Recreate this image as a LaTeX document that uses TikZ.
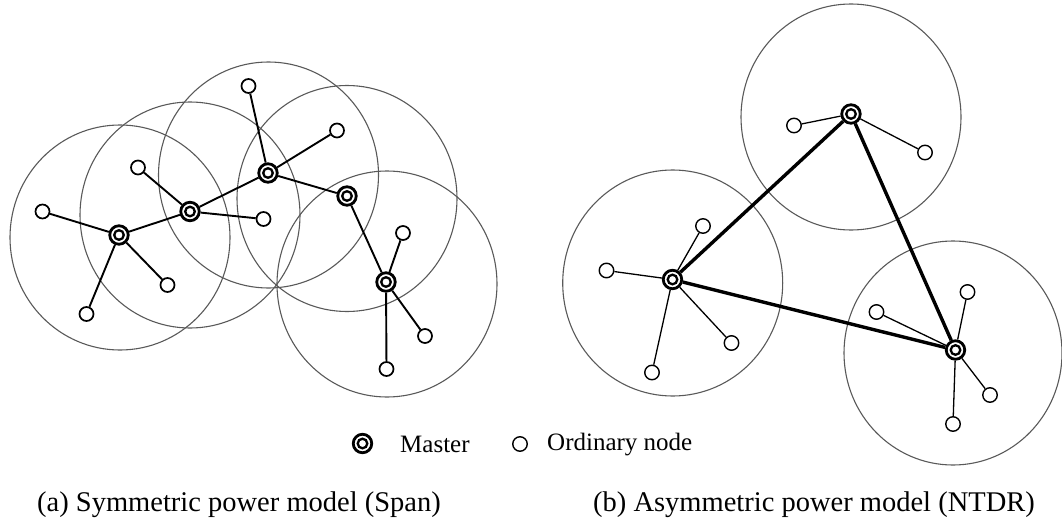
\documentclass[tikz,border=0pt]{standalone}
\usepackage{fontspec}
\setmainfont{Liberation Serif}
\begin{document}
\begin{tikzpicture}[x=1pt,y=-1pt,
  rangec/.style={draw=black!65, line width=1.1pt},
  master/.style={circle, draw, fill=white, line width=2.8pt, minimum size=18.5pt, inner sep=0pt,
    path picture={\draw[line width=2.3pt] (path picture bounding box.center) circle (4.8pt);}},
  ordnode/.style={circle, draw, fill=white, line width=1.7pt, minimum size=14pt, inner sep=0pt},
  ordthin/.style={circle, draw, fill=white, line width=1.4pt, minimum size=14.5pt, inner sep=0pt},
  linkA/.style={line width=1.9pt},
  linkB/.style={line width=1.3pt},
  trunk/.style={line width=3.4pt},
  lbl/.style={font=\fontsize{25}{29}\selectfont, inner sep=0pt},
  captext/.style={font=\fontsize{28.5}{33}\selectfont, inner sep=0pt}
]
\useasboundingbox (0,0) rectangle (1062,524);

% range circles (a)
\draw[rangec] (120,237.5) ellipse [x radius=110, y radius=112.5];
\draw[rangec] (190,215) ellipse [x radius=110, y radius=113];
\draw[rangec] (268.5,175) ellipse [x radius=110, y radius=113];
\draw[rangec] (347,198.5) ellipse [x radius=110, y radius=113];
\draw[rangec] (387,284) ellipse [x radius=110, y radius=113];
% range circles (b)
\draw[rangec] (851,117) ellipse [x radius=110, y radius=113];
\draw[rangec] (672.7,283) ellipse [x radius=110, y radius=113];
\draw[rangec] (953,353) ellipse [x radius=109, y radius=112];

% (a) nodes
\node[master] (m1) at (119,235) {};
\node[master] (m2) at (190,211.5) {};
\node[master] (m3) at (268,173) {};
\node[master] (m4) at (347,196) {};
\node[master] (m5) at (386,282) {};
\node[ordnode] (o1) at (42.5,211.5) {};
\node[ordnode] (o2) at (86.5,314) {};
\node[ordnode] (o3) at (167.5,285) {};
\node[ordnode] (o4) at (138,167.5) {};
\node[ordnode] (o5) at (263.5,219) {};
\node[ordnode] (o6) at (248.5,86) {};
\node[ordnode] (o7) at (337,130.5) {};
\node[ordnode] (o8) at (403,233) {};
\node[ordnode] (o9) at (425,336) {};
\node[ordnode] (o10) at (386.5,369) {};

\draw[linkA] (m1) -- (m2);
\draw[linkA] (m2) -- (m3);
\draw[linkA] (m3) -- (m4);
\draw[linkA] (m4) -- (m5);
\draw[linkA] (m1) -- (o1);
\draw[linkA] (m1) -- (o2);
\draw[linkA] (m1) -- (o3);
\draw[linkA] (m2) -- (o4);
\draw[linkA] (m2) -- (o5);
\draw[linkA] (m3) -- (o6);
\draw[linkA] (m3) -- (o7);
\draw[linkA] (m5) -- (o8);
\draw[linkA] (m5) -- (o9);
\draw[linkA] (m5) -- (o10);

% (b) nodes
\node[master] (t) at (851,114) {};
\node[master] (l) at (672.5,279.5) {};
\node[master] (r) at (955.5,350) {};
\node[ordthin] (t1) at (794,125.5) {};
\node[ordthin] (t2) at (925,152.5) {};
\node[ordthin] (l1) at (703,226) {};
\node[ordthin] (l2) at (606.5,270.5) {};
\node[ordthin] (l3) at (731.5,343) {};
\node[ordthin] (l4) at (652,372.5) {};
\node[ordthin] (r1) at (967.5,292) {};
\node[ordthin] (r2) at (876.5,312) {};
\node[ordthin] (r3) at (990,395) {};
\node[ordthin] (r4) at (953,424) {};

\draw[trunk] (t) -- (l);
\draw[trunk] (l) -- (r);
\draw[trunk] (r) -- (t);
\draw[linkB] (t) -- (t1);
\draw[linkB] (t) -- (t2);
\draw[linkB] (l) -- (l1);
\draw[linkB] (l) -- (l2);
\draw[linkB] (l) -- (l3);
\draw[linkB] (l) -- (l4);
\draw[linkB] (r) -- (r1);
\draw[linkB] (r) -- (r2);
\draw[linkB] (r) -- (r3);
\draw[linkB] (r) -- (r4);

% legend
\node[master] (legm) at (362.5,443.5) {};
\node[ordthin] (lego) at (520,444) {};
\node[lbl, anchor=base west] (legmt) at (400,452) {Master};
\node[lbl, anchor=base west] (legot) at (547,450) {Ordinary node};

% captions
\node[captext, anchor=base west] (capa) at (37,511) {(a) Symmetric power model (Span)};
\node[captext, anchor=base east] (capb) at (1035,511) {(b) Asymmetric power model (NTDR)};
\end{tikzpicture}
\end{document}
